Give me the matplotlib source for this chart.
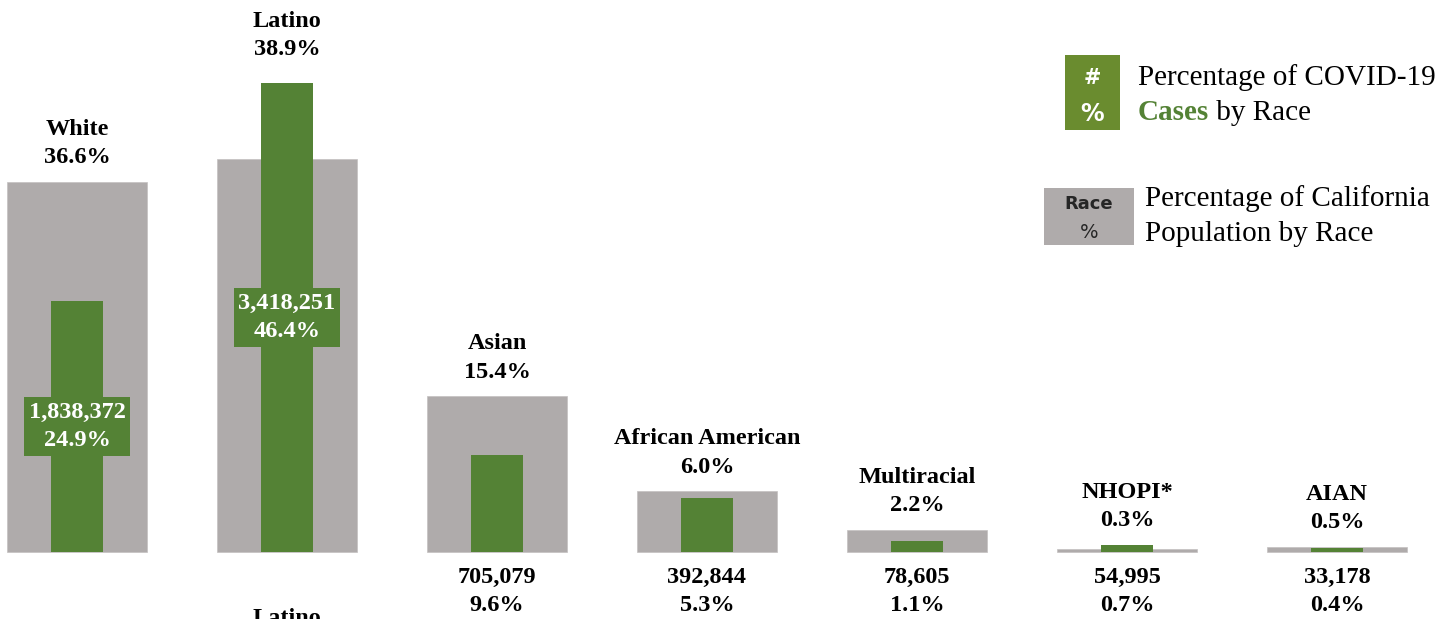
import matplotlib
matplotlib.use("Agg")
import matplotlib.pyplot as plt
from matplotlib.patches import Rectangle

# ---- data ----
races = ["White", "Latino", "Asian", "African American", "Multiracial", "NHOPI*", "AIAN"]
pop_pct = [36.6, 38.9, 15.4, 6.0, 2.2, 0.3, 0.5]
case_pct = [24.9, 46.4, 9.6, 5.3, 1.1, 0.7, 0.4]
case_counts = [1838372, 3418251, 705079, 392844, 78605, 54995, 33178]
inside_label = [True, True, False, False, False, False, False]

GREEN = "#548235"
GREY = "#AFABAB"
LEG_GREEN = "#6A8C2F"
SERIF = ["Liberation Serif", "DejaVu Serif"]
SANS = ["DejaVu Sans"]
FS = 17.5
LS = 1.45

W, H = 1453, 619
fig = plt.figure(figsize=(W / 100, H / 100), dpi=100)
ax = fig.add_axes([0, 0, 1, 1])
ax.set_xlim(-77 / 210, (W - 77) / 210)
ax.set_ylim(-(H - 552) / 10.1, 552 / 10.1)
ax.axis("off")

x = list(range(len(races)))
ax.bar(x, pop_pct, width=0.662, color=GREY, edgecolor="#C4C1C1", linewidth=0.5, zorder=1)
ax.bar(x, case_pct, width=0.25, color=GREEN, zorder=2)

for i, r in enumerate(races):
    top = max(pop_pct[i], case_pct[i])
    extra = 7 if case_pct[i] > pop_pct[i] and case_pct[i] > 5 else 0
    ax.annotate(f"{r}\n{pop_pct[i]:.1f}%", xy=(i, top), xytext=(0, 10 + extra),
                textcoords="offset points", ha="center", va="bottom",
                fontsize=FS, fontweight="bold", family=SERIF, linespacing=LS,
                color="black", zorder=4)
    lbl = f"{case_counts[i]:,}\n{case_pct[i]:.1f}%"
    if inside_label[i]:
        ax.text(i, case_pct[i] / 2, lbl, ha="center", va="center",
                fontsize=FS, fontweight="bold", family=SERIF, color="white",
                linespacing=LS, zorder=5,
                bbox=dict(boxstyle="square,pad=0.2", fc=GREEN, ec="none"))
    else:
        ax.annotate(lbl, xy=(i, 0), xytext=(0, -11), textcoords="offset points",
                    ha="center", va="top", fontsize=FS, fontweight="bold",
                    family=SERIF, color="black", linespacing=LS, zorder=4)

# stray clipped label at bottom (cut off in the original too)
ax.annotate("Latino", xy=(1, 0), xytext=(0, -40), textcoords="offset points",
            ha="center", va="top", fontsize=FS, fontweight="bold", family=SERIF,
            color="black")

# ---- legend ----
def fx(px):
    return px / W

def fy(py):
    return 1 - py / H

fig.patches.append(Rectangle((fx(1065), fy(130)), fx(1120) - fx(1065), fy(55) - fy(130),
                             transform=fig.transFigure, fc=LEG_GREEN, ec="none"))
fig.text(fx(1092.5), fy(78), "#", ha="center", va="center", color="white",
         fontsize=15, fontweight="bold", family=SANS)
fig.text(fx(1092.5), fy(114), "%", ha="center", va="center", color="white",
         fontsize=17, fontweight="bold", family=SANS)
fig.text(fx(1138), fy(78), "Percentage of COVID-19", ha="left", va="center",
         fontsize=21, family=SERIF, color="black")
t = fig.text(fx(1138), fy(113), "Cases", ha="left", va="center",
             fontsize=21, family=SERIF, fontweight="bold", color=GREEN)
ax.annotate(" by Race", xy=(1, 0), xycoords=t, ha="left", va="bottom",
            fontsize=21, family=SERIF, color="black")

fig.patches.append(Rectangle((fx(1044), fy(245)), fx(1134) - fx(1044), fy(188) - fy(245),
                             transform=fig.transFigure, fc=GREY, ec="none"))
fig.text(fx(1089), fy(204), "Race", ha="center", va="center", color="#262626",
         fontsize=13, fontweight="bold", family=SANS)
fig.text(fx(1089), fy(233), "%", ha="center", va="center", color="#262626",
         fontsize=14, family=SANS)
fig.text(fx(1145), fy(199), "Percentage of California", ha="left", va="center",
         fontsize=21, family=SERIF, color="black")
fig.text(fx(1145), fy(234), "Population by Race", ha="left", va="center",
         fontsize=21, family=SERIF, color="black")

fig.savefig("out.png", dpi=100)
